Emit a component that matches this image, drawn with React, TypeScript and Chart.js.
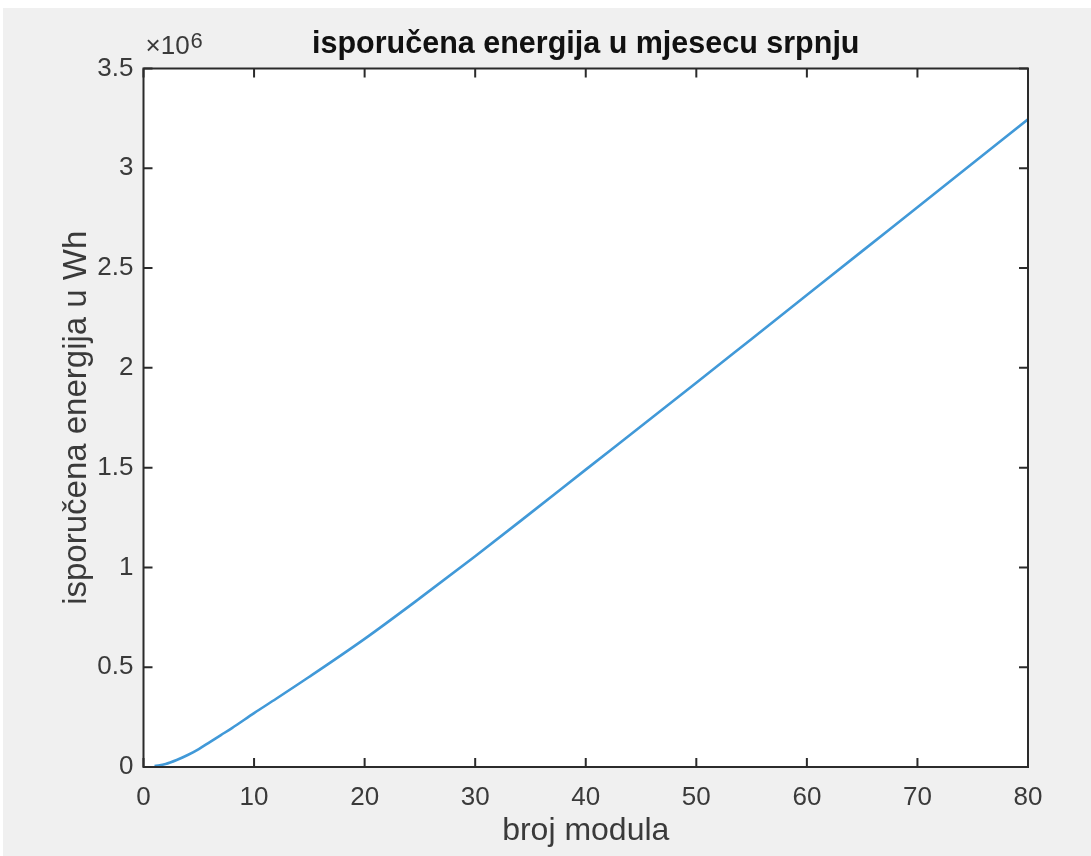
import React, { useEffect, useRef } from "react";
import { Chart, registerables } from "chart.js";

Chart.register(...registerables);

// Data (x = broj modula, y = energija in units of 10^6 Wh)
const moduleCounts = [1, 2, 3, 4, 5, 6, 7, 8, 10, 12, 15, 20, 25, 30, 35, 40, 45, 50, 55, 60, 65, 70, 75, 80];
const energyMWh = [0.005, 0.015, 0.035, 0.06, 0.09, 0.125, 0.16, 0.195, 0.27, 0.342, 0.452, 0.642, 0.846, 1.056, 1.272, 1.49, 1.707, 1.925, 2.145, 2.365, 2.585, 2.805, 3.025, 3.245];
const yMultiplier = 1e6;
const xTicks = [0, 10, 20, 30, 40, 50, 60, 70, 80];
const yTicks = [0, 0.5, 1, 1.5, 2, 2.5, 3, 3.5];

const titleText = "isporučena energija u mjesecu srpnju";
const xTitle = "broj modula";
const yTitle = "isporučena energija u Wh";

const W = 1091;
const H = 856;
const FONT = "'Liberation Sans', Arial, sans-serif";
const AXIS = "#2b2b2b";
const TEXT = "#3a3a3a";

const bgPlugin = {
  id: "bg",
  beforeDraw(chart: any) {
    const { ctx, chartArea: ca } = chart;
    ctx.save();
    ctx.fillStyle = "#ffffff";
    ctx.fillRect(0, 0, chart.width, chart.height);
    ctx.fillStyle = "#f0f0f0";
    ctx.fillRect(3, 8, chart.width, chart.height);
    ctx.fillStyle = "#ffffff";
    ctx.fillRect(ca.left, ca.top, ca.right - ca.left, ca.bottom - ca.top);
    ctx.restore();
  },
  afterDraw(chart: any) {
    const { ctx, chartArea: ca } = chart;
    const xs = chart.scales.x;
    const ys = chart.scales.y;
    ctx.save();
    ctx.strokeStyle = AXIS;
    ctx.lineWidth = 2;
    ctx.beginPath();
    for (const v of xTicks) {
      const px = xs.getPixelForValue(v);
      ctx.moveTo(px, ca.bottom);
      ctx.lineTo(px, ca.bottom - 9);
      ctx.moveTo(px, ca.top);
      ctx.lineTo(px, ca.top + 9);
    }
    for (const v of yTicks) {
      const py = ys.getPixelForValue(v * yMultiplier);
      ctx.moveTo(ca.left, py);
      ctx.lineTo(ca.left + 9, py);
      ctx.moveTo(ca.right, py);
      ctx.lineTo(ca.right - 9, py);
    }
    ctx.stroke();
    ctx.lineWidth = 2;
    ctx.strokeRect(ca.left, ca.top, ca.right - ca.left, ca.bottom - ca.top);
    // exponent label
    ctx.fillStyle = TEXT;
    ctx.textBaseline = "alphabetic";
    ctx.textAlign = "left";
    ctx.font = `26px ${FONT}`;
    const base = "\u00d710";
    ctx.fillText(base, ca.left + 2, ca.top - 15);
    const w = ctx.measureText(base).width;
    ctx.font = `22px ${FONT}`;
    ctx.fillText(String(Math.log10(yMultiplier)), ca.left + 2 + w + 1, ca.top - 21);
    ctx.restore();
  },
};

export default function App() {
  const ref = useRef<HTMLCanvasElement | null>(null);
  useEffect(() => {
    if (!ref.current) return;
    const chart = new Chart(ref.current, {
      type: "line",
      data: {
        datasets: [
          {
            data: moduleCounts.map((x, i) => ({ x, y: energyMWh[i] * yMultiplier })),
            borderColor: "#4199d8",
            borderWidth: 2.6,
            pointRadius: 0,
            cubicInterpolationMode: "monotone",
            fill: false,
          },
        ],
      },
      options: {
        animation: false,
        responsive: false,
        devicePixelRatio: 1,
        layout: { padding: { left: 0, right: W - 1028, top: 0, bottom: 0 } },
        plugins: {
          legend: { display: false },
          tooltip: { enabled: false },
          title: {
            display: true,
            text: titleText,
            fullSize: false,
            color: "#111111",
            font: { family: FONT, size: 30.5, weight: "bold", lineHeight: 1.2 },
            padding: { top: 26.7, bottom: 5.2 },
          },
        },
        scales: {
          x: {
            type: "linear",
            min: 0,
            max: 80,
            afterFit: (s: any) => {
              s.height = H - 767;
            },
            afterBuildTicks: (s: any) => {
              s.ticks = xTicks.map((v) => ({ value: v }));
            },
            grid: { display: false, drawTicks: false },
            border: { display: false },
            ticks: {
              color: TEXT,
              padding: 15,
              maxRotation: 0,
              font: { family: FONT, size: 26 },
              callback: (v: any) => String(v),
            },
            title: {
              display: true,
              text: xTitle,
              color: TEXT,
              font: { family: FONT, size: 32 },
              padding: { top: 0, bottom: 5.8 },
            },
          },
          y: {
            type: "linear",
            min: 0,
            max: 3.5 * yMultiplier,
            afterFit: (s: any) => {
              s.width = 143.5;
            },
            afterBuildTicks: (s: any) => {
              s.ticks = yTicks.map((v) => ({ value: v * yMultiplier }));
            },
            grid: { display: false, drawTicks: false },
            border: { display: false },
            ticks: {
              color: TEXT,
              padding: 10,
              font: { family: FONT, size: 26 },
              callback: (v: any) => String(Number(v) / yMultiplier),
            },
            title: {
              display: true,
              text: yTitle,
              color: TEXT,
              font: { family: FONT, size: 33 },
              padding: { top: 57.2, bottom: 0 },
            },
          },
        },
      },
      plugins: [bgPlugin],
    });
    return () => chart.destroy();
  }, []);

  return (
    <div style={{ position: "absolute", left: 0, top: 0, width: W, height: H }}>
      <canvas ref={ref} width={W} height={H} style={{ width: W, height: H, display: "block" }} />
    </div>
  );
}
